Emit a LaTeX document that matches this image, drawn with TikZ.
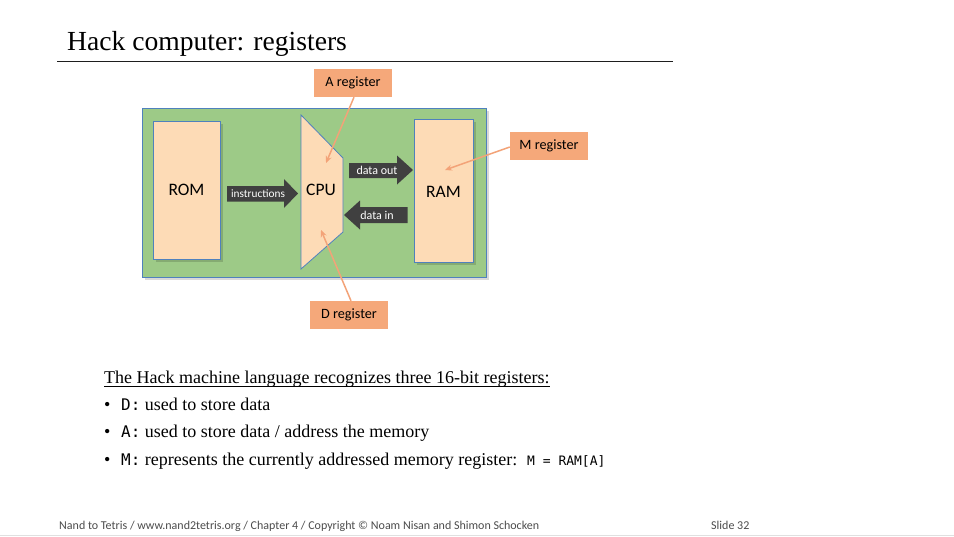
\documentclass[tikz,border=0pt]{standalone}
\usepackage{fontspec}
\setmainfont{Liberation Serif}
\newfontfamily\uifont{Carlito}
\newfontfamily\codefont{DejaVu Sans Mono}
\usetikzlibrary{arrows.meta}

\definecolor{boardgreen}{RGB}{157,202,135}
\definecolor{edgeblue}{RGB}{79,129,189}
\definecolor{chipfill}{RGB}{253,219,182}
\definecolor{tagfill}{RGB}{245,168,122}
\definecolor{tagline}{RGB}{243,163,120}
\definecolor{busfill}{RGB}{64,64,64}
\definecolor{rulegray}{RGB}{30,30,30}

\tikzset{
  board/.style={fill=boardgreen, draw=edgeblue, line width=0.8pt},
  chip/.style={fill=chipfill, draw=edgeblue, line width=0.8pt},
  softshadow/.style={fill=black, opacity=0.15},
  chiplabel/.style={font=\uifont\fontsize{17.5}{19}\selectfont, text=black},
  tagbox/.style={fill=tagfill, inner sep=0pt, font=\uifont\fontsize{14.2}{16}\selectfont,
                 minimum width=78pt, minimum height=28pt},
  pointer/.style={draw=tagline, line width=1.5pt,
                  -{Stealth[length=7pt,width=6pt]}},
  bus/.style={fill=busfill},
  buslabel/.style={text=white, font=\uifont\fontsize{12}{13}\selectfont, inner sep=0pt},
  bodytext/.style={anchor=base west, inner sep=0pt, font=\fontsize{18}{20}\selectfont},
  footer/.style={anchor=base west, inner sep=0pt, text=black!70, font=\uifont\fontsize{12}{13}\selectfont},
}

\begin{document}
\begin{tikzpicture}[x=1pt, y=-1pt]
  \useasboundingbox[fill=white] (0,0) rectangle (954,536);

  % slide title and rule
  \node[anchor=base west, inner sep=0pt, font=\fontsize{27.6}{30}\selectfont] (title) at (67,50) {Hack computer: registers};
  \coordinate (ruleL) at (57,61.5);
  \coordinate (ruleR) at (673,61.5);
  \draw[rulegray, line width=1.4pt] (ruleL) -- (ruleR);

  % computer board
  \fill[softshadow] (145,111) rectangle (489,280);
  \draw[board] (142,108) rectangle (486,277);

  % ROM
  \fill[softshadow] (155.5,123.5) rectangle (222.5,261.5);
  \node[chip, minimum width=67pt, minimum height=138pt, inner sep=0pt] (rom) at (186.5,190) {};
  \node[chiplabel] (romtext) at (rom.center) {ROM};

  % RAM
  \fill[softshadow] (416.5,121.5) rectangle (475.5,264.5);
  \node[chip, minimum width=59pt, minimum height=143pt, inner sep=0pt] (ram) at (443.5,191) {};
  \node[chiplabel] (ramtext) at (443.5,192) {RAM};

  % CPU trapezoid
  \coordinate (cpuTL) at (301,115);
  \coordinate (cpuTR) at (343,158);
  \coordinate (cpuBR) at (343,232);
  \coordinate (cpuBL) at (301,269);
  \draw[chip] (cpuTL) -- (cpuTR) -- (cpuBR) -- (cpuBL) -- cycle;
  \node[chiplabel] (cpu) at (321,190) {CPU};

  % instructions bus: ROM -> CPU
  \fill[bus] (227,186) -- (284,186) -- (284,179) -- (298,193.5) -- (284,208) -- (284,201.5) -- (227,201.5) -- cycle;
  \node[buslabel, font=\uifont\fontsize{11.3}{12}\selectfont] (instr) at (258,194) {instructions};

  % data out bus: CPU -> RAM
  \fill[bus] (349,163) -- (397,163) -- (397,155.5) -- (413,170) -- (397,184.5) -- (397,178) -- (349,178) -- cycle;
  \node[buslabel] (dout) at (377,170.5) {data out};

  % data in bus: RAM -> CPU
  \fill[bus] (407.5,207) -- (360,207) -- (360,200.5) -- (344,215) -- (360,229.5) -- (360,223) -- (407.5,223) -- cycle;
  \node[buslabel] (din) at (377,215.5) {data in};

  % register tags
  \node[tagbox] (areg) at (353,83) {A register};
  \node[tagbox] (mreg) at (549,146) {M register};
  \node[tagbox] (dreg) at (349,315) {D register};

  \coordinate (aspot) at (326,163);
  \coordinate (mspot) at (445,170);
  \coordinate (dspot) at (321,230);
  \draw[pointer] ([xshift=1pt]areg.south) -- (aspot);
  \draw[pointer] ([yshift=-1pt]mreg.west) -- (mspot);
  \draw[pointer] ([xshift=2pt]dreg.north) -- (dspot);

  % explanatory text
  \node[bodytext] (intro) at (104,383) {The Hack machine language recognizes three 16-bit registers:};
  \draw[black, line width=0.8pt] ([yshift=-3pt]intro.base west) -- ([yshift=-3pt]intro.base east);

  \node[bodytext] (b1) at (104,410.5) {\textbullet};
  \node[bodytext] (t1) at (121,410.5) {{\codefont\fontsize{16}{18}\selectfont D:} used to store data};
  \node[bodytext] (b2) at (104,437.5) {\textbullet};
  \node[bodytext] (t2) at (121,437.5) {{\codefont\fontsize{16}{18}\selectfont A:} used to store data / address the memory};
  \node[bodytext] (b3) at (104,465) {\textbullet};
  \node[bodytext] (t3) at (121,465) {{\codefont\fontsize{16}{18}\selectfont M:} represents the currently addressed memory register:};
  \node[bodytext, font=\codefont\fontsize{13}{15}\selectfont] (eq) at (527,465) {M = RAM[A]};

  % footer
  \node[footer] (credit) at (59,529) {Nand to Tetris / www.nand2tetris.org / Chapter 4 / Copyright \textcopyright{} Noam Nisan and Shimon Schocken};
  \node[footer] (slide) at (711,529) {Slide 32};
  \coordinate (edgeL) at (0,535.5);
  \coordinate (edgeR) at (954,535.5);
  \draw[black!12, line width=1pt] (edgeL) -- (edgeR);
\end{tikzpicture}
\end{document}
